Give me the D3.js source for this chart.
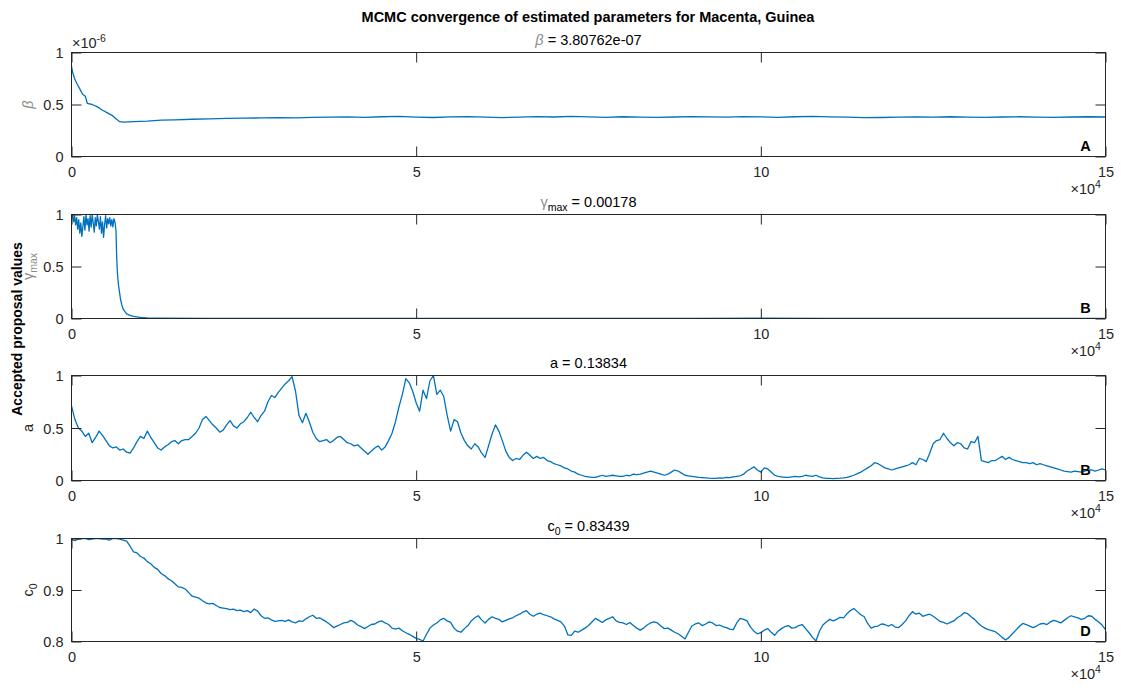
<!DOCTYPE html>
<html>
<head>
<meta charset="utf-8">
<script src="https://cdn.jsdelivr.net/npm/d3@7/dist/d3.min.js"></script>
<style>
  html, body { margin: 0; padding: 0; background: #fff; }
  svg { display: block; font-family: "Liberation Sans", Arial, Helvetica, sans-serif; }
</style>
</head>
<body>
<svg id="chart" width="1121" height="689"></svg>
<script>
// MCMC trace of accepted proposals for each parameter (Macenta, Guinea)
const totalIter = 150000;
const xTickValues = [0, 50000, 100000, 150000];   // labelled in units of 1e4

// beta (units of 1e-6), sampled at irregular iterations
const betaIter = [0, 200, 500, 800, 1200, 1600, 2000, 2300, 3000, 3700, 4400, 5200, 6000, 6500, 7000, 7500,
  9000, 11000, 13000, 15000, 17500, 20000, 22500, 25000, 27500, 30000, 32500, 35000, 37500, 40000,
  42500, 45000, 47500, 50000, 52500, 55000, 57500, 60000, 62500, 65000, 67500, 70000, 72500, 75000,
  77500, 80000, 82500, 85000, 87500, 90000, 92500, 95000, 97500, 100000, 102500, 105000, 107500,
  110000, 112500, 115000, 117500, 120000, 122500, 125000, 127500, 130000, 132500, 135000, 137500,
  140000, 142500, 145000, 147500, 150000];
const betaVal = [0.87, 0.80, 0.74, 0.70, 0.65, 0.60, 0.58, 0.51, 0.50, 0.48, 0.45, 0.42, 0.39, 0.36, 0.335, 0.33,
  0.335, 0.34, 0.35, 0.352, 0.358, 0.362, 0.366, 0.369, 0.371, 0.374, 0.372, 0.376, 0.378, 0.381,
  0.377, 0.382, 0.386, 0.379, 0.375, 0.381, 0.384, 0.378, 0.374, 0.379, 0.383, 0.38, 0.385, 0.381,
  0.377, 0.382, 0.379, 0.376, 0.38, 0.384, 0.381, 0.378, 0.383, 0.381, 0.377, 0.382, 0.386,
  0.381, 0.378, 0.373, 0.375, 0.379, 0.381, 0.378, 0.382, 0.379, 0.376, 0.38, 0.382,
  0.378, 0.376, 0.38, 0.382, 0.38];

// gamma_max, sampled at irregular iterations
const gammaIter = [0, 150, 300, 450, 600, 750, 900, 1050, 1200, 1350, 1500, 1650, 1800, 1950, 2100, 2250,
  2400, 2550, 2700, 2850, 3000, 3150, 3300, 3450, 3600, 3750, 3900, 4050, 4200, 4350, 4500, 4650, 4800,
  4950, 5100, 5250, 5400, 5550, 5700, 5850, 6000, 6150, 6300, 6450, 6550, 6650, 6800, 6950, 7100, 7300,
  7500, 7700, 8000, 8500, 9000, 10000, 11000, 13000, 20000, 30000, 40000, 50000, 60000, 70000, 80000,
  90000, 100000, 110000, 120000, 130000, 140000, 150000];
const gammaVal = [0.97, 1.0, 0.93, 0.99, 0.90, 0.97, 0.86, 0.95, 0.82, 0.92, 0.79, 0.88, 0.98, 0.85, 1.0, 0.90,
  0.96, 0.84, 0.99, 0.88, 1.0, 0.92, 0.83, 0.97, 0.89, 1.0, 0.93, 0.86, 0.98, 0.82, 0.93, 0.78, 0.90,
  0.99, 0.87, 0.96, 0.91, 0.97, 0.89, 0.95, 0.88, 0.96, 0.93, 0.85, 0.60, 0.45, 0.33, 0.26, 0.19, 0.13,
  0.09, 0.07, 0.045, 0.03, 0.02, 0.01, 0.006, 0.003, 0.002, 0.002, 0.002, 0.002, 0.002, 0.002, 0.002,
  0.002, 0.003, 0.002, 0.002, 0.002, 0.002, 0.002];

// a and c_0, one sample every 500 iterations
const gridStep = 500;
const aVal = [
  0.71, 0.58, 0.50, 0.47, 0.42, 0.45, 0.36, 0.41, 0.47, 0.43,
  0.38, 0.33, 0.31, 0.32, 0.29, 0.30, 0.27, 0.26, 0.31, 0.37,
  0.42, 0.40, 0.47, 0.41, 0.36, 0.31, 0.29, 0.32, 0.34, 0.37,
  0.38, 0.35, 0.38, 0.39, 0.39, 0.42, 0.45, 0.50, 0.58, 0.61,
  0.57, 0.53, 0.50, 0.46, 0.48, 0.53, 0.57, 0.52, 0.50, 0.54,
  0.56, 0.60, 0.65, 0.60, 0.56, 0.62, 0.66, 0.75, 0.81, 0.79,
  0.84, 0.88, 0.92, 0.95, 0.99, 0.85, 0.62, 0.55, 0.64, 0.56,
  0.46, 0.40, 0.37, 0.38, 0.39, 0.36, 0.38, 0.41, 0.42, 0.39,
  0.36, 0.35, 0.33, 0.34, 0.31, 0.28, 0.25, 0.28, 0.31, 0.33,
  0.29, 0.32, 0.38, 0.45, 0.56, 0.70, 0.82, 0.97, 0.93, 0.85,
  0.74, 0.66, 0.86, 0.78, 0.95, 1.0, 0.82, 0.86, 0.80, 0.62,
  0.47, 0.58, 0.56, 0.45, 0.38, 0.33, 0.30, 0.35, 0.32, 0.26,
  0.22, 0.33, 0.44, 0.53, 0.47, 0.38, 0.28, 0.22, 0.19, 0.21,
  0.20, 0.24, 0.27, 0.24, 0.21, 0.23, 0.21, 0.22, 0.19, 0.18,
  0.16, 0.15, 0.14, 0.12, 0.11, 0.09, 0.08, 0.06, 0.05, 0.04,
  0.035, 0.03, 0.03, 0.04, 0.05, 0.04, 0.045, 0.05, 0.045, 0.04,
  0.04, 0.05, 0.045, 0.06, 0.055, 0.06, 0.07, 0.08, 0.09, 0.08,
  0.07, 0.06, 0.05, 0.06, 0.08, 0.10, 0.09, 0.07, 0.05, 0.045,
  0.04, 0.035, 0.03, 0.028, 0.025, 0.022, 0.02, 0.02, 0.025, 0.022,
  0.03, 0.028, 0.035, 0.04, 0.045, 0.06, 0.09, 0.11, 0.13, 0.10,
  0.08, 0.12, 0.11, 0.08, 0.05, 0.04, 0.035, 0.03, 0.03, 0.035,
  0.04, 0.035, 0.04, 0.05, 0.045, 0.04, 0.05, 0.035, 0.025, 0.02,
  0.02, 0.018, 0.02, 0.022, 0.025, 0.03, 0.04, 0.05, 0.065, 0.08,
  0.10, 0.12, 0.14, 0.17, 0.16, 0.14, 0.12, 0.11, 0.10, 0.11,
  0.12, 0.13, 0.14, 0.15, 0.17, 0.15, 0.21, 0.20, 0.18, 0.26,
  0.35, 0.38, 0.39, 0.45, 0.40, 0.36, 0.33, 0.36, 0.35, 0.31,
  0.30, 0.37, 0.36, 0.42, 0.19, 0.18, 0.17, 0.19, 0.19, 0.21,
  0.23, 0.20, 0.22, 0.20, 0.19, 0.18, 0.17, 0.17, 0.16, 0.17,
  0.15, 0.16, 0.15, 0.14, 0.13, 0.12, 0.11, 0.10, 0.09, 0.085,
  0.08, 0.09, 0.085, 0.08, 0.09, 0.10, 0.10, 0.09, 0.10, 0.11,
  0.10];
const c0Val = [
  0.998, 0.996, 0.999, 1.0, 1.0, 0.998, 0.999, 1.0, 1.0, 0.999,
  0.999, 0.997, 1.0, 1.0, 0.999, 0.997, 0.995, 0.985, 0.974, 0.972,
  0.965, 0.962, 0.955, 0.951, 0.944, 0.940, 0.932, 0.928, 0.922, 0.918,
  0.912, 0.906, 0.905, 0.902, 0.895, 0.888, 0.886, 0.884, 0.879, 0.875,
  0.873, 0.874, 0.870, 0.866, 0.865, 0.864, 0.862, 0.863, 0.860, 0.861,
  0.858, 0.860, 0.856, 0.863, 0.859, 0.850, 0.845, 0.846, 0.842, 0.839,
  0.840, 0.841, 0.839, 0.842, 0.838, 0.836, 0.840, 0.839, 0.844, 0.848,
  0.851, 0.845, 0.846, 0.842, 0.838, 0.833, 0.827, 0.830, 0.833, 0.836,
  0.837, 0.841, 0.838, 0.832, 0.829, 0.825, 0.829, 0.833, 0.834, 0.838,
  0.840, 0.836, 0.833, 0.826, 0.824, 0.826, 0.821, 0.817, 0.814, 0.810,
  0.806, 0.804, 0.801, 0.814, 0.826, 0.832, 0.836, 0.842, 0.845, 0.840,
  0.837, 0.826, 0.820, 0.818, 0.825, 0.831, 0.840, 0.846, 0.850, 0.842,
  0.836, 0.843, 0.848, 0.845, 0.843, 0.838, 0.841, 0.844, 0.846, 0.850,
  0.853, 0.857, 0.860, 0.853, 0.849, 0.853, 0.855, 0.852, 0.850, 0.848,
  0.844, 0.841, 0.838, 0.830, 0.813, 0.812, 0.820, 0.818, 0.822, 0.826,
  0.831, 0.838, 0.845, 0.841, 0.837, 0.842, 0.845, 0.848, 0.840, 0.837,
  0.836, 0.833, 0.837, 0.831, 0.826, 0.822, 0.826, 0.832, 0.836, 0.838,
  0.836, 0.830, 0.825, 0.826, 0.822, 0.818, 0.815, 0.810, 0.805, 0.818,
  0.830, 0.834, 0.836, 0.831, 0.834, 0.838, 0.836, 0.831, 0.832, 0.829,
  0.827, 0.824, 0.823, 0.836, 0.845, 0.843, 0.840, 0.828, 0.820, 0.815,
  0.817, 0.822, 0.825, 0.818, 0.812, 0.820, 0.825, 0.829, 0.831, 0.826,
  0.827, 0.831, 0.833, 0.825, 0.817, 0.808, 0.801, 0.820, 0.832, 0.838,
  0.843, 0.840, 0.843, 0.847, 0.846, 0.854, 0.860, 0.864, 0.858, 0.852,
  0.848, 0.835, 0.826, 0.829, 0.830, 0.834, 0.833, 0.830, 0.833, 0.828,
  0.827, 0.833, 0.840, 0.850, 0.858, 0.853, 0.855, 0.849, 0.851, 0.853,
  0.849, 0.844, 0.839, 0.837, 0.834, 0.837, 0.840, 0.846, 0.850, 0.856,
  0.854, 0.848, 0.843, 0.836, 0.830, 0.826, 0.823, 0.821, 0.819, 0.814,
  0.808, 0.803, 0.808, 0.815, 0.822, 0.829, 0.835, 0.833, 0.830, 0.827,
  0.830, 0.834, 0.835, 0.833, 0.838, 0.841, 0.839, 0.836, 0.841, 0.846,
  0.850, 0.848, 0.846, 0.843, 0.845, 0.850, 0.849, 0.843, 0.838, 0.832,
  0.823];

const estimates = ["3.80762e-07", "0.00178", "0.13834", "0.83439"];
const panelLetters = ["A", "B", "B", "D"];

const lineColor = "#0072BD";
const axisColor = "#262626";
const greekColor = "#8c8c8c";

const svg = d3.select("#chart");
const L = 71.5, R = 1105.5;
const tops = [52.5, 214.5, 375.5, 538.5];
const bottoms = [156.5, 318.5, 480.5, 641.5];

const x = d3.scaleLinear().domain([0, totalIter]).range([L, R]);

const fmtPlain = d3.format("~g");
const panels = [
  { iters: betaIter, vals: betaVal, domain: [0, 1], ticks: [0, 0.5, 1], fmt: fmtPlain },
  { iters: gammaIter, vals: gammaVal, domain: [0, 1], ticks: [0, 0.5, 1], fmt: fmtPlain },
  { iters: aVal.map((_, i) => i * gridStep), vals: aVal, domain: [0, 1], ticks: [0, 0.5, 1], fmt: fmtPlain },
  { iters: c0Val.map((_, i) => i * gridStep), vals: c0Val, domain: [0.8, 1], ticks: [0.8, 0.9, 1],
    fmt: d => d === 1 ? "1" : d3.format(".1f")(d) }
];

const fontTick = 14.5;

// main title
svg.append("text")
  .attr("x", 588).attr("y", 22)
  .attr("text-anchor", "middle")
  .attr("font-weight", "bold").attr("font-size", 14.5)
  .attr("fill", "#000")
  .text("MCMC convergence of estimated parameters for Macenta, Guinea");

panels.forEach((p, k) => {
  const top = tops[k], bot = bottoms[k];
  const y = d3.scaleLinear().domain(p.domain).range([bot, top]);
  const g = svg.append("g");

  // clip region for the trace
  const clipId = "clip" + k;
  svg.append("clipPath").attr("id", clipId)
    .append("rect").attr("x", L).attr("y", top).attr("width", R - L).attr("height", bot - top);

  const pts = p.iters.map((it, i) => [it, p.vals[i]]);
  g.append("path")
    .datum(pts)
    .attr("clip-path", `url(#${clipId})`)
    .attr("fill", "none")
    .attr("stroke", lineColor)
    .attr("stroke-width", 1.3)
    .attr("stroke-linejoin", "round")
    .attr("d", d3.line().x(d => x(d[0])).y(d => y(d[1])));

  // axes: bottom with labels, top/left/right ticks pointing inward
  const xb = g.append("g").attr("transform", `translate(0,${bot})`)
    .call(d3.axisBottom(x).tickValues(xTickValues).tickSizeInner(-10).tickSizeOuter(0).tickPadding(0)
      .tickFormat(d => d / 1e4));
  const xt = g.append("g").attr("transform", `translate(0,${top})`)
    .call(d3.axisTop(x).tickValues(xTickValues).tickSizeInner(-10).tickSizeOuter(0).tickFormat(""));
  const yl = g.append("g").attr("transform", `translate(${L},0)`)
    .call(d3.axisLeft(y).tickValues(p.ticks).tickSizeInner(-10).tickSizeOuter(0).tickPadding(8).tickFormat(p.fmt));
  const yr = g.append("g").attr("transform", `translate(${R},0)`)
    .call(d3.axisRight(y).tickValues(p.ticks).tickSizeInner(-10).tickSizeOuter(0).tickFormat(""));

  [xb, xt, yl, yr].forEach(a => {
    a.select(".domain").remove();
    a.selectAll("line").attr("stroke", axisColor).attr("stroke-width", 1);
    a.selectAll("text").attr("fill", axisColor).attr("font-size", fontTick)
      .attr("font-family", '"Liberation Sans", Arial, Helvetica, sans-serif');
  });
  xb.selectAll("text").attr("dy", null).attr("y", 20);
  yl.selectAll("text").attr("dy", "0.36em");

  // frame
  g.append("rect")
    .attr("x", L).attr("y", top).attr("width", R - L).attr("height", bot - top)
    .attr("fill", "none").attr("stroke", axisColor).attr("stroke-width", 1);

  // x exponent
  const ex = g.append("text").attr("x", R - 35).attr("y", bot + 37)
    .attr("fill", axisColor).attr("font-size", fontTick);
  ex.append("tspan").text("\u00d710");
  ex.append("tspan").attr("dy", -6).attr("font-size", 10.5).text("4");

  // panel letter
  g.append("text").attr("x", R - 20).attr("y", bot - 6)
    .attr("text-anchor", "middle").attr("font-weight", "bold").attr("font-size", 14.5)
    .attr("fill", "#000").text(panelLetters[k]);
});

// y exponent for beta
const ey = svg.append("text").attr("x", 72).attr("y", 48).attr("fill", axisColor).attr("font-size", fontTick);
ey.append("tspan").text("\u00d710");
ey.append("tspan").attr("dy", -6).attr("font-size", 10.5).text("-6");

// subtitles
function subtitle(k, build) {
  const t = svg.append("text").attr("x", (L + R) / 2).attr("y", tops[k] - 8)
    .attr("text-anchor", "middle").attr("font-size", fontTick).attr("fill", "#000");
  build(t);
}
subtitle(0, t => {
  t.append("tspan").attr("fill", greekColor).attr("font-style", "italic").text("\u03b2");
  t.append("tspan").text(" = " + estimates[0]);
});
subtitle(1, t => {
  t.append("tspan").attr("fill", greekColor).text("\u03b3");
  t.append("tspan").attr("dy", 4).attr("font-size", 10.5).text("max");
  t.append("tspan").attr("dy", -4).text(" = " + estimates[1]);
});
subtitle(2, t => t.text("a = " + estimates[2]));
subtitle(3, t => {
  t.append("tspan").text("c");
  t.append("tspan").attr("dy", 4).attr("font-size", 10.5).text("0");
  t.append("tspan").attr("dy", -4).text(" = " + estimates[3]);
});

// y labels
function ylabel(k, build) {
  const cy = (tops[k] + bottoms[k]) / 2;
  const t = svg.append("text").attr("transform", `translate(33,${cy}) rotate(-90)`)
    .attr("text-anchor", "middle").attr("font-size", fontTick).attr("fill", axisColor);
  build(t);
}
ylabel(0, t => t.append("tspan").attr("fill", greekColor).attr("font-style", "italic").text("\u03b2"));
ylabel(1, t => {
  t.append("tspan").attr("fill", greekColor).text("\u03b3");
  t.append("tspan").attr("dy", 4).attr("font-size", 10.5).attr("fill", greekColor).text("max");
});
ylabel(2, t => t.text("a"));
ylabel(3, t => {
  t.append("tspan").text("c");
  t.append("tspan").attr("dy", 4).attr("font-size", 10.5).text("0");
});

// shared y label
svg.append("text").attr("transform", "translate(22,329) rotate(-90)")
  .attr("text-anchor", "middle").attr("font-weight", "bold").attr("font-size", 14)
  .attr("fill", "#000").text("Accepted proposal values");
</script>
</body>
</html>
